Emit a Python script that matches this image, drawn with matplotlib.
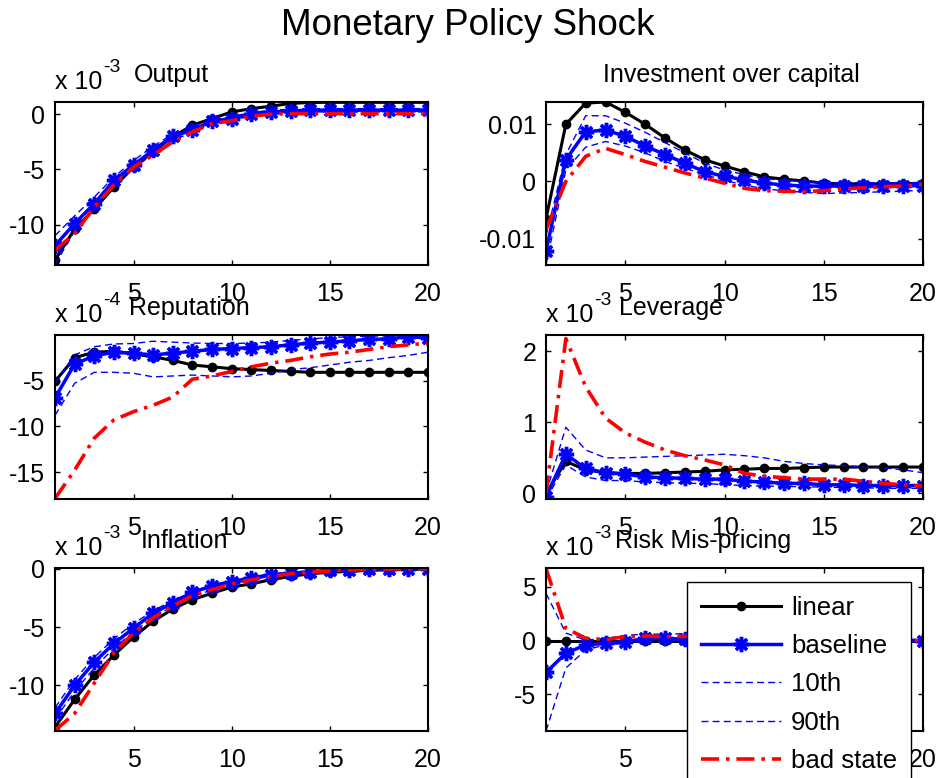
import matplotlib
matplotlib.use("Agg")
import matplotlib.pyplot as plt

plt.rcParams["font.family"] = ["Liberation Sans", "DejaVu Sans"]
plt.rcParams["axes.unicode_minus"] = False
plt.rcParams["lines.scale_dashes"] = False

W, H = 937, 778

# horizon
periods = list(range(1, 21))

# Output, x 10^-3
out_linear = [-13.2, -10.4, -8.6, -6.6, -4.8, -3.4, -2.05, -1.0, -0.4, 0.2,
              0.5, 0.72, 0.97, 1.06, 1.07, 1.07, 1.07, 1.07, 1.07, 1.07]
out_base = [-11.9, -9.9, -8.1, -6.0, -4.6, -3.25, -2.0, -1.45, -0.63, -0.4,
            0.05, 0.2, 0.3, 0.36, 0.36, 0.36, 0.36, 0.36, 0.36, 0.36]
out_p10 = [-13.6, -10.6, -8.4, -6.5, -4.9, -3.6, -2.4, -1.6, -0.9, -0.5,
           -0.2, 0.0, 0.1, 0.2, 0.2, 0.2, 0.2, 0.2, 0.2, 0.2]
out_p90 = [-11.0, -9.2, -7.5, -5.7, -4.2, -2.9, -1.8, -1.1, -0.5, -0.2,
           0.15, 0.35, 0.45, 0.5, 0.5, 0.5, 0.5, 0.5, 0.5, 0.5]
out_bad = [-12.3, -10.8, -8.4, -6.4, -4.8, -3.7, -2.5, -1.6, -0.85, -0.6,
           -0.18, 0.0, 0.05, 0.05, 0.05, 0.05, 0.05, 0.05, 0.05, 0.05]

# Investment over capital
inv_linear = [-0.0065, 0.0100, 0.0137, 0.0139, 0.0121, 0.0100, 0.0076, 0.0055, 0.0038, 0.0027,
              0.0017, 0.0008, 0.0004, 0.0001, -0.0003, -0.0004, -0.0004, -0.0004, -0.0004, -0.0003]
inv_base = [-0.0122, 0.0038, 0.0087, 0.0090, 0.0079, 0.0062, 0.0047, 0.0032, 0.0017, 0.0009,
            0.0003, -0.0003, -0.0006, -0.0008, -0.0008, -0.0008, -0.0008, -0.0008, -0.0008, -0.0007]
inv_p10 = [-0.0146, 0.0020, 0.0060, 0.0070, 0.0062, 0.0050, 0.0035, 0.0023, 0.0012, 0.0002,
           -0.0006, -0.0013, -0.0016, -0.0019, -0.0021, -0.0020, -0.0019, -0.0018, -0.0017, -0.0015]
inv_p90 = [-0.0095, 0.0047, 0.0115, 0.0115, 0.0102, 0.0086, 0.0068, 0.0050, 0.0032, 0.0020,
           0.0012, 0.0005, 0.0002, 0.0, -0.0002, -0.0002, -0.0002, -0.0002, -0.0002, -0.0002]
inv_bad = [-0.0084, 0.0, 0.0044, 0.0058, 0.0047, 0.0035, 0.0025, 0.0015, 0.0006, -0.0003,
           -0.0012, -0.0016, -0.0017, -0.0018, -0.0016, -0.0013, -0.0011, -0.0009, -0.0008, -0.0005]

# Reputation, x 10^-4
rep_linear = [-5.1, -2.5, -1.9, -1.8, -2.1, -2.4, -2.8, -3.3, -3.5, -3.7,
              -3.8, -3.9, -4.0, -4.1, -4.1, -4.1, -4.1, -4.1, -4.1, -4.1]
rep_base = [-6.9, -3.2, -2.3, -1.9, -2.0, -2.2, -2.0, -1.8, -1.6, -1.5,
            -1.4, -1.3, -1.1, -0.9, -0.8, -0.65, -0.5, -0.45, -0.2, -0.35]
rep_p10 = [-8.8, -5.3, -4.1, -4.1, -4.2, -4.6, -4.5, -4.4, -4.5, -4.6,
           -4.5, -4.2, -3.8, -3.6, -3.3, -3.0, -2.8, -2.5, -2.25, -1.9]
rep_p90 = [-5.3, -2.2, -1.3, -1.0, -0.95, -0.7, -0.8, -0.9, -0.95, -0.95,
           -0.9, -0.8, -0.6, -0.45, -0.3, -0.2, -0.15, -0.1, -0.05, -0.03]
rep_bad = [-17.9, -14.8, -11.3, -9.3, -8.4, -7.7, -6.8, -4.85, -4.5, -4.0,
           -3.5, -3.1, -2.8, -2.4, -2.1, -1.9, -1.6, -1.3, -1.1, -0.9]

# Leverage, x 10^-3
lev_linear = [0.0, 0.45, 0.33, 0.29, 0.28, 0.28, 0.29, 0.30, 0.31, 0.33,
              0.34, 0.35, 0.35, 0.36, 0.37, 0.37, 0.37, 0.37, 0.37, 0.37]
lev_base = [-0.05, 0.55, 0.35, 0.29, 0.27, 0.23, 0.22, 0.21, 0.20, 0.20,
            0.17, 0.16, 0.14, 0.14, 0.12, 0.12, 0.11, 0.11, 0.11, 0.11]
lev_p10 = [-0.08, 0.40, 0.23, 0.18, 0.18, 0.16, 0.15, 0.14, 0.14, 0.12,
           0.11, 0.10, 0.10, 0.09, 0.09, 0.08, 0.08, 0.07, 0.07, 0.07]
lev_p90 = [0.0, 0.93, 0.61, 0.50, 0.50, 0.51, 0.52, 0.53, 0.54, 0.55,
           0.53, 0.50, 0.45, 0.42, 0.40, 0.39, 0.37, 0.36, 0.33, 0.29]
lev_bad = [0.0, 2.18, 1.50, 1.06, 0.85, 0.72, 0.61, 0.53, 0.47, 0.40,
           0.28, 0.24, 0.22, 0.20, 0.20, 0.20, 0.17, 0.14, 0.12, 0.10]

# Inflation, x 10^-3
inf_linear = [-13.57, -11.2, -9.1, -7.4, -5.85, -4.5, -3.45, -2.65, -2.1, -1.57,
              -1.3, -0.94, -0.66, -0.43, -0.31, -0.23, -0.14, -0.09, -0.06, -0.03]
inf_base = [-12.4, -10.0, -8.0, -6.4, -5.1, -3.8, -2.95, -2.0, -1.5, -1.1,
            -0.8, -0.5, -0.4, -0.25, -0.15, -0.1, -0.05, 0.0, 0.0, 0.0]
inf_p10 = [-12.9, -10.5, -8.5, -6.8, -5.4, -4.2, -3.2, -2.4, -1.8, -1.3,
           -0.95, -0.65, -0.45, -0.3, -0.2, -0.12, -0.08, -0.05, -0.03, -0.02]
inf_p90 = [-11.9, -9.5, -7.6, -6.0, -4.7, -3.6, -2.7, -2.0, -1.4, -1.0,
           -0.7, -0.45, -0.3, -0.2, -0.1, -0.05, 0.0, 0.02, 0.03, 0.05]
inf_bad = [-13.86, -12.4, -9.8, -7.2, -5.5, -4.2, -3.2, -2.3, -1.8, -1.3,
           -0.95, -0.66, -0.43, -0.3, -0.2, -0.1, -0.06, -0.03, -0.02, 0.0]

# Risk mis-pricing, x 10^-3
risk_linear = [0.0] * 20
risk_base = [-2.96, -1.17, -0.4, -0.25, -0.1, 0.2, 0.2, 0.15, 0.12, 0.1,
             0.08, 0.07, 0.06, 0.05, 0.04, 0.03, 0.02, 0.02, 0.01, 0.0]
risk_p10 = [-8.4, -2.55, -0.86, -0.4, -0.25, -0.1, -0.05, 0.0, 0.0, 0.0,
            0.0, 0.0, 0.0, 0.0, 0.0, 0.0, 0.0, 0.0, 0.0, 0.0]
risk_p90 = [4.4, 0.7, 0.05, 0.2, 0.5, 0.6, 0.6, 0.65, 0.6, 0.55,
            0.5, 0.45, 0.4, 0.35, 0.3, 0.25, 0.2, 0.15, 0.12, 0.1]
risk_bad = [6.7, 1.15, 0.22, 0.1, 0.37, 0.43, 0.37, 0.4, 0.38, 0.35,
            0.3, 0.27, 0.23, 0.2, 0.16, 0.13, 0.1, 0.07, 0.05, 0.0]

legend_labels = ["linear", "baseline", "10th", "90th", "bad state"]

# (series, title, exponent, ylim, yticks, yticklabels, axes box px [l, t, r, b], title centre x)
panels = [
    ((out_linear, out_base, out_p10, out_p90, out_bad), "Output", "-3",
     (-13.65, 1.1), [-10, -5, 0], ["-10", "-5", "0"], (55, 102, 428, 265), 171),
    ((inv_linear, inv_base, inv_p10, inv_p90, inv_bad), "Investment over capital", None,
     (-0.0146, 0.0139), [-0.01, 0, 0.01], ["-0.01", "0", "0.01"], (546, 102, 923, 265), 731),
    ((rep_linear, rep_base, rep_p10, rep_p90, rep_bad), "Reputation", "-4",
     (-17.95, -0.02), [-15, -10, -5], ["-15", "-10", "-5"], (55, 335, 428, 499), 189),
    ((lev_linear, lev_base, lev_p10, lev_p90, lev_bad), "Leverage", "-3",
     (-0.08, 2.23), [0, 1, 2], ["0", "1", "2"], (546, 335, 923, 499), 671),
    ((inf_linear, inf_base, inf_p10, inf_p90, inf_bad), "Inflation", "-3",
     (-13.9, 0.06), [-10, -5, 0], ["-10", "-5", "0"], (55, 568, 428, 731), 185),
    ((risk_linear, risk_base, risk_p10, risk_p90, risk_bad), "Risk Mis-pricing", "-3",
     (-8.4, 6.75), [-5, 0, 5], ["-5", "0", "5"], (546, 568, 923, 731), 703),
]

FS = 18

fig = plt.figure(figsize=(W / 100, H / 100), dpi=100)
fig.text(468 / W, 1 - 35 / H, "Monetary Policy Shock", fontsize=26.5,
         ha="center", va="baseline")

handles = None
for series, title, expo, ylim, yticks, ylabels, box, tx in panels:
    l, t, r, b = box
    ax = fig.add_axes([l / W, 1 - b / H, (r - l) / W, (b - t) / H])
    lin, base, p10, p90, bad = series
    h1, = ax.plot(periods, lin, color="black", lw=2.2, marker="o", ms=6,
                  mfc="black", mec="black")
    h2, = ax.plot(periods, base, color="#0000ff", lw=2.5, marker=(8, 2, 0), ms=11,
                  mew=2.5, mec="#0000ff")
    h3, = ax.plot(periods, p10, color="#0000ff", lw=1.0, dashes=(5, 3))
    h4, = ax.plot(periods, p90, color="#0000ff", lw=1.0, dashes=(5, 3))
    h5, = ax.plot(periods, bad, color="#ff0000", lw=2.6, dashes=(13, 5, 2.5, 5))
    handles = [h1, h2, h3, h4, h5]

    ax.set_xlim(1, 20)
    ax.set_ylim(*ylim)
    ax.set_xticks([5, 10, 15, 20])
    ax.set_xticklabels(["5", "10", "15", "20"])
    ax.set_yticks(yticks)
    ax.set_yticklabels(ylabels)
    ax.tick_params(direction="in", length=3.6, width=1, top=True, right=True,
                   labelsize=FS)
    ax.tick_params(axis="x", pad=12.5)
    ax.tick_params(axis="y", pad=7)
    for sp in ax.spines.values():
        sp.set_linewidth(1.5)

    fig.text(tx / W, 1 - (t - 20) / H, title, fontsize=FS, ha="center", va="baseline")
    if expo is not None:
        fig.text(l / W, 1 - (t - 13) / H, "x 10", fontsize=FS, ha="left", va="baseline")
        fig.text((l + 48) / W, 1 - (t - 30) / H, expo, fontsize=14, ha="left",
                 va="baseline")

fig.legend(handles, legend_labels, loc="upper left",
           bbox_to_anchor=(687 / W, 1 - 582 / H), borderaxespad=0,
           fontsize=18.5, frameon=True, fancybox=False, framealpha=1,
           edgecolor="black", handlelength=3.1, handletextpad=0.4,
           labelspacing=0.55, borderpad=0.55)

fig.savefig("out.png", dpi=100)
